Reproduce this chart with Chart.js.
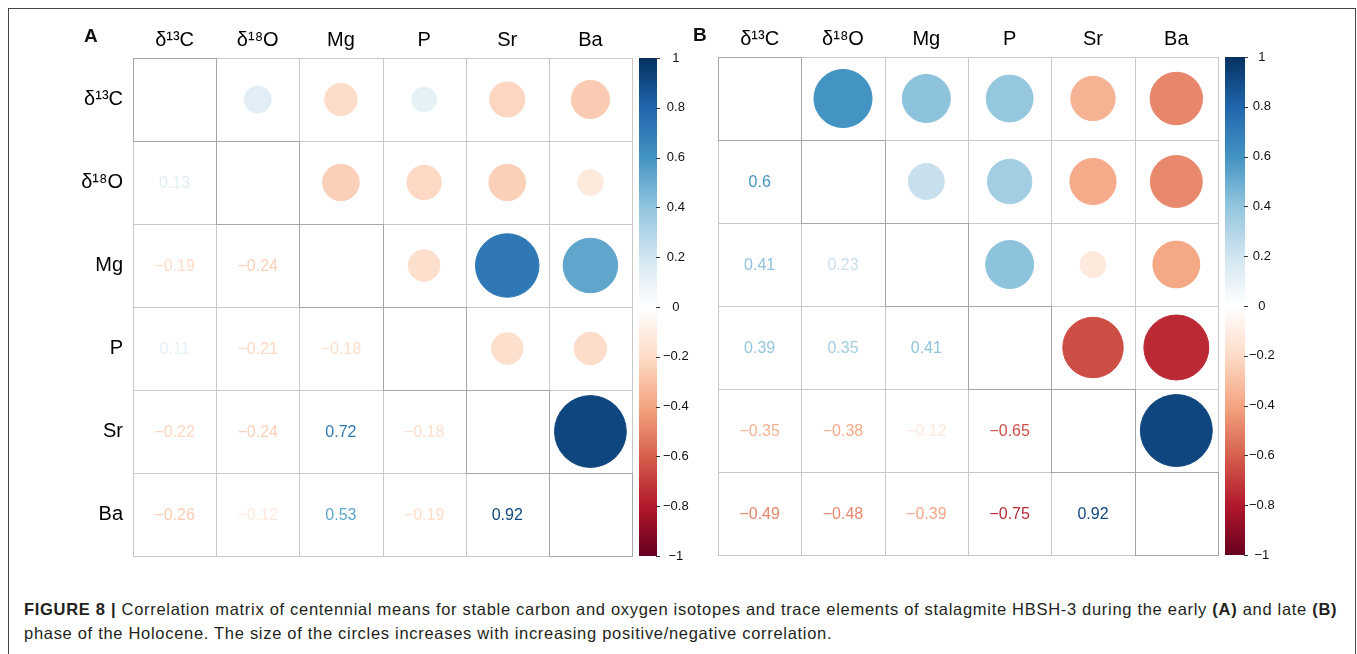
<!DOCTYPE html>
<html>
<head>
<meta charset="utf-8">
<script src="https://cdn.jsdelivr.net/npm/chart.js@4.4.1/dist/chart.umd.min.js"></script>
<style>
  body { margin: 0; background: #fff; }
  #fig { position: relative; width: 1357px; height: 654px; overflow: hidden; font-family: "Liberation Sans", Arial, Helvetica, sans-serif; }
  #frame { position: absolute; left: 8px; top: 8px; width: 1346px; height: 700px; border: 1.5px solid #444; }
  canvas { position: absolute; top: 0; }
  #canvasA { left: 0; }
  #canvasB { left: 660px; }
  .letter { position: absolute; font-weight: bold; font-size: 19px; color: #111; }
  #caption { position: absolute; left: 24px; top: 597px; font-size: 16.5px; letter-spacing: 0.7px; line-height: 24px; color: #231f20; white-space: nowrap; }
</style>
</head>
<body>
<div id="fig">
  <div id="frame"></div>
  <canvas id="canvasA" width="695" height="575"></canvas>
  <canvas id="canvasB" width="697" height="575"></canvas>
  <div class="letter" style="left:84px;top:25px;">A</div>
  <div class="letter" style="left:693px;top:24px;">B</div>
  <div id="caption"><b>FIGURE 8 |</b> Correlation matrix of centennial means for stable carbon and oxygen isotopes and trace elements of stalagmite HBSH-3 during the early <b>(A)</b> and late <b>(B)</b><br>phase of the Holocene. The size of the circles increases with increasing positive/negative correlation.</div>
</div>

<script>
// variables (rows/columns of both matrices)
const variables = ["δ¹³C", "δ¹⁸O", "Mg", "P", "Sr", "Ba"];

// early Holocene (A)
const corrA = [
  [1, 0.13, -0.19, 0.11, -0.22, -0.26],
  [0.13, 1, -0.24, -0.21, -0.24, -0.12],
  [-0.19, -0.24, 1, -0.18, 0.72, 0.53],
  [0.11, -0.21, -0.18, 1, -0.18, -0.19],
  [-0.22, -0.24, 0.72, -0.18, 1, 0.92],
  [-0.26, -0.12, 0.53, -0.19, 0.92, 1],
];

// late Holocene (B)
const corrB = [
  [1, 0.6, 0.41, 0.39, -0.35, -0.49],
  [0.6, 1, 0.23, 0.35, -0.38, -0.48],
  [0.41, 0.23, 1, 0.41, -0.12, -0.39],
  [0.39, 0.35, 0.41, 1, -0.65, -0.75],
  [-0.35, -0.38, -0.12, -0.65, 1, 0.92],
  [-0.49, -0.48, -0.39, -0.75, 0.92, 1],
];

// colour bar ticks
const cbTicks = [-1, -0.8, -0.6, -0.4, -0.2, 0, 0.2, 0.4, 0.6, 0.8, 1];

const rdbu = ["#67001F", "#B2182B", "#D6604D", "#F4A582", "#FDDBC7", "#FFFFFF",
  "#D1E5F0", "#92C5DE", "#4393C3", "#2166AC", "#053061"];

const labelFont = "'Liberation Sans', 'Noto Sans', Arial, sans-serif";

const hex = (h) => [1, 3, 5].map((i) => parseInt(h.substr(i, 2), 16));

function corrColor(v) {
  const t = ((v + 1) / 2) * (rdbu.length - 1);
  const i = Math.min(Math.floor(t), rdbu.length - 2);
  const f = t - i;
  const a = hex(rdbu[i]), b = hex(rdbu[i + 1]);
  const c = a.map((x, k) => Math.round(x + (b[k] - x) * f));
  return `rgb(${c[0]}, ${c[1]}, ${c[2]})`;
}

const fmt = (v) => String(v).replace("-", "\u2212");
const idx = variables.map((_, i) => i);

function makePanel(id, matrix, geo) {
  const ctx = document.getElementById(id);

  const points = [];
  matrix.forEach((row, i) =>
    row.forEach((v, j) => {
      if (j > i) points.push({ x: j, y: i, v: v });
    })
  );

  // circle radius from the x scale, area proportional to |r|
  const radius = (c) => {
    const xs = c.chart.scales && c.chart.scales.x;
    if (!xs || !c.raw) return 0;
    const cell = Math.abs(xs.getPixelForValue(1) - xs.getPixelForValue(0));
    return 0.45 * Math.sqrt(Math.abs(c.raw.v)) * cell;
  };
  const color = (c) => (c.raw ? corrColor(c.raw.v) : "#fff");

  new Chart(ctx, {
    type: "scatter",
    data: {
      datasets: [
        {
          data: points,
          pointRadius: radius,
          pointHoverRadius: radius,
          backgroundColor: color,
          borderColor: color,
          borderWidth: 1,
        },
      ],
    },
    options: {
      responsive: false,
      animation: false,
      events: [],
      layout: {
        padding: { left: geo.padLeft, right: geo.padRight, top: 0, bottom: geo.padBottom },
      },
      scales: {
        x: {
          type: "linear",
          position: "top",
          min: -0.5,
          max: 5.5,
          afterBuildTicks: (s) => { s.ticks = idx.map((v) => ({ value: v })); },
          afterFit: (s) => { s.height = geo.top; },
          ticks: {
            autoSkip: false,
            maxRotation: 0,
            padding: 6,
            color: "#000",
            font: { size: 20, family: labelFont },
            callback: (v) => variables[v],
          },
          grid: { display: false, drawTicks: false },
          border: { display: false },
        },
        y: {
          type: "linear",
          position: "left",
          reverse: true,
          min: -0.5,
          max: 5.5,
          display: geo.rowLabels,
          afterBuildTicks: (s) => { s.ticks = idx.map((v) => ({ value: v })); },
          afterFit: (s) => { s.width = geo.yWidth; s.paddingTop = 0; s.paddingBottom = 0; },
          ticks: {
            autoSkip: false,
            padding: 10,
            color: "#000",
            font: { size: 20, family: labelFont },
            callback: (v) => variables[v],
          },
          grid: { display: false, drawTicks: false },
          border: { display: false },
        },
        cb: {
          type: "linear",
          position: "right",
          min: -1,
          max: 1,
          afterBuildTicks: (s) => { s.ticks = cbTicks.map((v) => ({ value: v })); },
          afterFit: (s) => { s.width = geo.cbWidth; s.paddingTop = 0; s.paddingBottom = 0; },
          ticks: {
            autoSkip: false,
            crossAlign: "center",
            padding: geo.cbPad,
            color: "#111",
            font: { size: 13, family: labelFont },
            callback: (v) => fmt(Math.round(v * 10) / 10),
          },
          grid: { display: false, drawTicks: false },
          border: { display: false },
        },
      },
      plugins: {
        legend: { display: false },
        tooltip: { enabled: false },
      },
    },
    plugins: [
      {
        id: "corrGrid",
        beforeDatasetsDraw(c) {
          const { x, y } = c.scales;
          const g = c.ctx;
          g.save();
          g.strokeStyle = "#c8c8c8";
          g.lineWidth = 1;
          for (let k = 0; k <= variables.length; k++) {
            const px = Math.round(x.getPixelForValue(k - 0.5)) + 0.5;
            const py = Math.round(y.getPixelForValue(k - 0.5)) + 0.5;
            g.beginPath();
            g.moveTo(px, y.getPixelForValue(-0.5));
            g.lineTo(px, y.getPixelForValue(5.5));
            g.stroke();
            g.beginPath();
            g.moveTo(x.getPixelForValue(-0.5), py);
            g.lineTo(x.getPixelForValue(5.5), py);
            g.stroke();
          }
          // diagonal cells
          g.strokeStyle = "#a6a6a6";
          idx.forEach((k) => {
            const x0 = Math.round(x.getPixelForValue(k - 0.5)) + 0.5;
            const x1 = Math.round(x.getPixelForValue(k + 0.5)) + 0.5;
            const y0 = Math.round(y.getPixelForValue(k - 0.5)) + 0.5;
            const y1 = Math.round(y.getPixelForValue(k + 0.5)) + 0.5;
            g.strokeRect(x0, y0, x1 - x0, y1 - y0);
          });
          g.restore();
        },
        afterDatasetsDraw(c) {
          const { x, y } = c.scales;
          const g = c.ctx;
          g.save();
          g.font = "16px 'Liberation Sans', Arial, sans-serif";
          g.textAlign = "center";
          g.textBaseline = "middle";
          matrix.forEach((row, i) =>
            row.forEach((v, j) => {
              if (j < i) {
                g.fillStyle = corrColor(v);
                g.fillText(fmt(v), x.getPixelForValue(j), y.getPixelForValue(i) + 1);
              }
            })
          );
          g.restore();
        },
        afterDraw(c) {
          const cb = c.scales.cb;
          const g = c.ctx;
          const left = c.chartArea.right + 7;
          const w = geo.barWidth;
          const top = cb.getPixelForValue(1);
          const bottom = cb.getPixelForValue(-1);
          const grad = g.createLinearGradient(0, bottom, 0, top);
          rdbu.forEach((col, k) => grad.addColorStop(k / (rdbu.length - 1), col));
          g.save();
          g.fillStyle = grad;
          g.fillRect(left, top, w, bottom - top);
          g.strokeStyle = "#333";
          g.lineWidth = 1;
          cbTicks.forEach((v) => {
            const py = Math.round(cb.getPixelForValue(v)) + 0.5;
            g.beginPath();
            g.moveTo(left + w - 1, py);
            g.lineTo(left + w + 3, py);
            g.stroke();
          });
          g.restore();
        },
      },
    ],
  });
}

makePanel("canvasA", corrA, {
  top: 58, yWidth: 133, rowLabels: true, padLeft: 0, padRight: 0, padBottom: 19,
  cbWidth: 63, cbPad: 31, barWidth: 18,
});

makePanel("canvasB", corrB, {
  top: 57, yWidth: 0, rowLabels: false, padLeft: 58, padRight: 71, padBottom: 20,
  cbWidth: 68, cbPad: 31, barWidth: 20,
});
</script>
</body>
</html>
